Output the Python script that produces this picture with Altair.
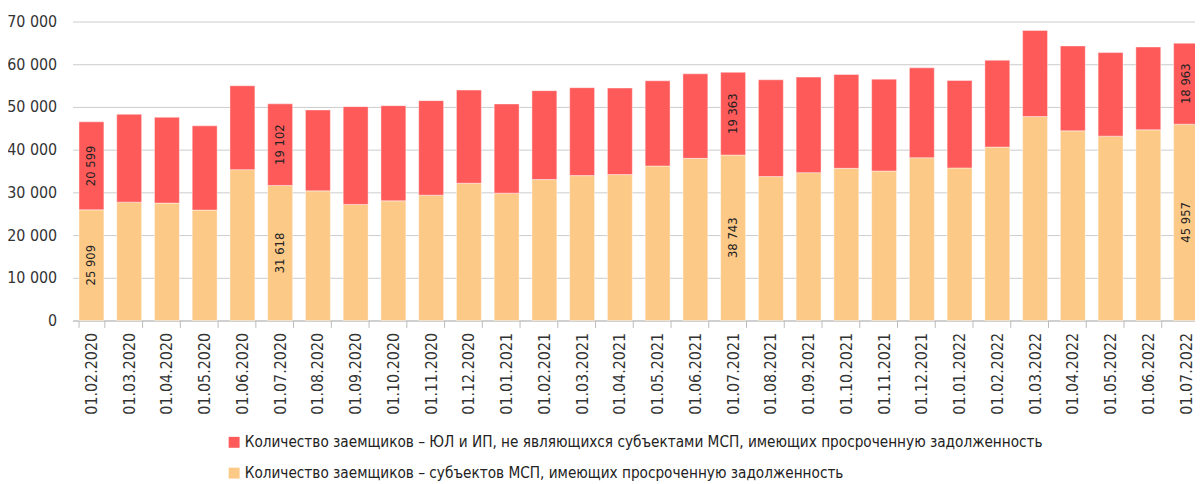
import altair as alt
import pandas as pd

dates = ["01.02.2020", "01.03.2020", "01.04.2020", "01.05.2020", "01.06.2020", "01.07.2020",
         "01.08.2020", "01.09.2020", "01.10.2020", "01.11.2020", "01.12.2020", "01.01.2021",
         "01.02.2021", "01.03.2021", "01.04.2021", "01.05.2021", "01.06.2021", "01.07.2021",
         "01.08.2021", "01.09.2021", "01.10.2021", "01.11.2021", "01.12.2021", "01.01.2022",
         "01.02.2022", "01.03.2022", "01.04.2022", "01.05.2022", "01.06.2022", "01.07.2022"]

msp = [25909, 27710, 27480, 25850, 35320, 31618, 30350, 27170, 28020, 29340,
       32140, 29810, 33000, 33920, 34160, 36170, 37960, 38743, 33690, 34620,
       35630, 35000, 38110, 35710, 40600, 47740, 44400, 43160, 44640, 45957]

non_msp = [20599, 20570, 20100, 19720, 19640, 19102, 18950, 22900, 22280, 22130,
           21810, 20880, 20800, 20580, 20260, 19950, 19800, 19363, 22670, 22360,
           21970, 21510, 21040, 20490, 20340, 20180, 19880, 19560, 19400, 18963]

labelled = ["01.02.2020", "01.07.2020", "01.07.2021", "01.07.2022"]

s_non = "Количество заемщиков – ЮЛ и ИП, не являющихся субъектами МСП, имеющих просроченную задолженность"
s_msp = "Количество заемщиков – субъектов МСП, имеющих просроченную задолженность"

rows = []
for d, a, b in zip(dates, msp, non_msp):
    rows.append({"date": d, "series": s_msp, "value": a, "ord": 0})
    rows.append({"date": d, "series": s_non, "value": b, "ord": 1})
df = pd.DataFrame(rows)
df["label"] = df.apply(lambda r: f"{r['value']:,}".replace(",", " ") if r["date"] in labelled else "", axis=1)

FONT = "DejaVu Sans Condensed, sans-serif"

xscale = alt.Scale(domain=dates, range=[0, 1140], paddingInner=0.34, paddingOuter=0.17)
yscale = alt.Scale(domain=[0, 70000])

base = alt.Chart(df)

bars = base.mark_bar(stroke="#ffffff", strokeWidth=0.6, strokeOpacity=0.7).encode(
    x=alt.X("date:N", sort=dates, scale=xscale,
            axis=alt.Axis(title=None, labelAngle=-90, labelFontSize=16, labelFont=FONT,
                          labelColor="#333333", domainColor="#bbbbbb", tickColor="#bbbbbb",
                          tickSize=7, labelPadding=5, tickBand="extent", grid=False)),
    y=alt.Y("value:Q", stack="zero", scale=yscale,
            axis=alt.Axis(title=None, values=list(range(0, 70001, 10000)),
                          labelExpr="replace(format(datum.value, ','), ',', ' ')",
                          labelFontSize=16, labelFont=FONT, labelColor="#333333",
                          labelPadding=16, ticks=False, domain=False,
                          gridColor="#cccccc", gridWidth=1)),
    color=alt.Color("series:N", scale=alt.Scale(domain=[s_non, s_msp], range=["#FF5A5A", "#FDC987"]),
                    legend=alt.Legend(title=None, orient="none", legendX=155, legendY=416,
                                      direction="vertical", symbolType="square", symbolSize=121,
                                      symbolStrokeWidth=0, labelFontSize=15.3, labelFont=FONT,
                                      labelColor="#222222", labelLimit=1100, labelOffset=3,
                                      rowPadding=15)),
    order=alt.Order("ord:Q"),
)

texts = base.transform_stack(
    stack="value", groupby=["date"], as_=["v0", "v1"], sort=[alt.SortField("ord")]
).transform_calculate(
    mid="(datum.v0 + datum.v1) / 2"
).mark_text(angle=270, fontSize=13, font=FONT, color="#222222", baseline="middle", align="center").encode(
    x=alt.X("date:N", sort=dates, scale=xscale),
    y=alt.Y("mid:Q", scale=yscale),
    text="label:N",
)

chart = alt.layer(bars, texts).properties(
    width=1130, height=301, autosize="none",
    padding={"left": 65, "top": 12, "right": 0, "bottom": 163},
).configure_view(stroke=None)

chart.save("out.html", embed_options={"renderer": "svg", "actions": False})
